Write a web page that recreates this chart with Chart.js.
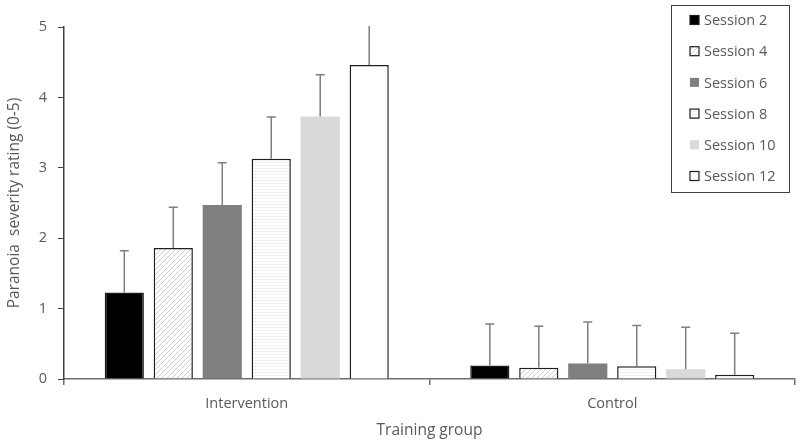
<!DOCTYPE html>
<html>
<head>
<meta charset="utf-8">
<script src="https://cdn.jsdelivr.net/npm/chart.js@4.4.1/dist/chart.umd.min.js"></script>
<style>
  html, body { margin: 0; padding: 0; background: #fff; }
  #wrap { width: 800px; height: 441px; }
</style>
</head>
<body>
<div id="wrap"><canvas id="grafico" width="800" height="441"></canvas></div>
<script>
const groups = ["Intervention", "Control"];
const sessions = ["Session 2", "Session 4", "Session 6", "Session 8", "Session 10", "Session 12"];

// mean rating per session, [Intervention, Control]
const session2 = [1.23, 0.19];
const session4 = [1.86, 0.16];
const session6 = [2.47, 0.22];
const session8 = [3.13, 0.18];
const session10 = [3.73, 0.14];
const session12 = [4.46, 0.06];

// upper error (SD) per session
const err2 = [0.59, 0.59];
const err4 = [0.58, 0.59];
const err6 = [0.60, 0.59];
const err8 = [0.59, 0.58];
const err10 = [0.59, 0.595];
const err12 = [0.60, 0.59];

const yTicks = [0, 1, 2, 3, 4, 5];

const textColor = "#595959";
const font = "'Open Sans', sans-serif";

function makePattern(kind) {
  const c = document.createElement("canvas");
  const size = kind === "hatch" ? 5 : 3;
  c.width = size;
  c.height = size;
  const g = c.getContext("2d");
  g.fillStyle = "#ffffff";
  g.fillRect(0, 0, size, size);
  if (kind === "hatch") {
    g.strokeStyle = "#cfcfcf";
    g.lineWidth = 1;
    g.beginPath();
    g.moveTo(0, size); g.lineTo(size, 0);
    g.moveTo(-size, size); g.lineTo(size, -size);
    g.moveTo(0, 2 * size); g.lineTo(2 * size, 0);
    g.stroke();
  } else {
    g.fillStyle = "#f0f0f0";
    g.fillRect(0, 0, size, 1);
  }
  return g.createPattern(c, "repeat");
}

const hatch = makePattern("hatch");
const lines = makePattern("lines");

const means = [session2, session4, session6, session8, session10, session12];
const errors = [err2, err4, err6, err8, err10, err12];
const fills = ["#000000", hatch, "#7f7f7f", lines, "#d9d9d9", "#ffffff"];
const borders = [1.5, 1.5, 0, 1.5, 0, 1.5];

const datasets = sessions.map((name, i) => ({
  label: name,
  data: means[i],
  err: errors[i],
  backgroundColor: fills[i],
  borderColor: "#1f1f1f",
  borderWidth: borders[i],
  borderSkipped: "bottom",
  barPercentage: 0.8,
  categoryPercentage: 0.804
}));

const errorBars = {
  id: "errorBars",
  afterDatasetsDraw(chart) {
    const g = chart.ctx;
    const y = chart.scales.y;
    const area = chart.chartArea;
    g.save();
    g.beginPath();
    g.rect(area.left, area.top - 1, area.right - area.left, area.bottom - area.top + 1);
    g.clip();
    g.strokeStyle = "#7f7f7f";
    g.lineWidth = 1.5;
    chart.data.datasets.forEach((ds, i) => {
      const meta = chart.getDatasetMeta(i);
      meta.data.forEach((bar, j) => {
        const top = y.getPixelForValue(ds.data[j] + ds.err[j]);
        g.beginPath();
        g.moveTo(bar.x, bar.y);
        g.lineTo(bar.x, top);
        g.moveTo(bar.x - 4.5, top);
        g.lineTo(bar.x + 4.5, top);
        g.stroke();
      });
    });
    g.restore();
  }
};

const boxLegend = {
  id: "boxLegend",
  afterDraw(chart) {
    const g = chart.ctx;
    const x0 = 671, y0 = 5, w = 118, h = 187;
    g.save();
    g.fillStyle = "#ffffff";
    g.fillRect(x0, y0, w, h);
    g.strokeStyle = "#404040";
    g.lineWidth = 1;
    g.strokeRect(x0 + 0.5, y0 + 0.5, w, h);
    g.font = "14.5px " + font;
    g.textBaseline = "middle";
    chart.data.datasets.forEach((ds, i) => {
      const cy = 20 + i * 31.2;
      const sx = 690, sz = 9;
      g.fillStyle = ds.backgroundColor;
      g.fillRect(sx, cy - sz / 2, sz, sz);
      if (ds.borderWidth > 0) {
        g.strokeStyle = "#1f1f1f";
        g.lineWidth = 1.2;
        g.strokeRect(sx, cy - sz / 2, sz, sz);
      }
      g.fillStyle = textColor;
      g.fillText(ds.label, 704, cy + 1);
    });
    g.restore();
  }
};

new Chart(document.getElementById("grafico"), {
  type: "bar",
  data: { labels: groups, datasets: datasets },
  plugins: [errorBars, boxLegend],
  options: {
    responsive: false,
    animation: false,
    layout: { padding: { top: 27, right: 5, left: 0, bottom: 0 } },
    plugins: {
      legend: { display: false },
      tooltip: { enabled: false }
    },
    scales: {
      x: {
        afterFit: s => { s.height = 62; },
        offset: true,
        grid: {
          display: true,
          offset: true,
          drawOnChartArea: false,
          tickLength: 6,
          color: "#6d6d6d",
          lineWidth: 1.5
        },
        border: { display: true, color: "#6d6d6d", width: 1.5 },
        ticks: { color: textColor, font: { family: font, size: 14.5 }, padding: 10 },
        title: {
          display: true,
          text: "Training group",
          color: textColor,
          font: { family: font, size: 15.5 },
          padding: { top: 0, bottom: 1 }
        }
      },
      y: {
        afterFit: s => { s.width = 64; },
        min: 0,
        max: 5,
        afterBuildTicks: s => { s.ticks = yTicks.map(v => ({ value: v })); },
        grid: {
          display: true,
          drawOnChartArea: false,
          tickLength: 6,
          color: "#404040",
          lineWidth: 1
        },
        border: { display: true, color: "#404040", width: 1.5 },
        ticks: { color: textColor, font: { family: font, size: 14.5 }, padding: 11 },
        title: {
          display: true,
          text: "Paranoia  severity rating (0-5)",
          color: textColor,
          font: { family: font, size: 15.5 },
          padding: { top: 5, bottom: 0 }
        }
      }
    }
  }
});
</script>
</body>
</html>
